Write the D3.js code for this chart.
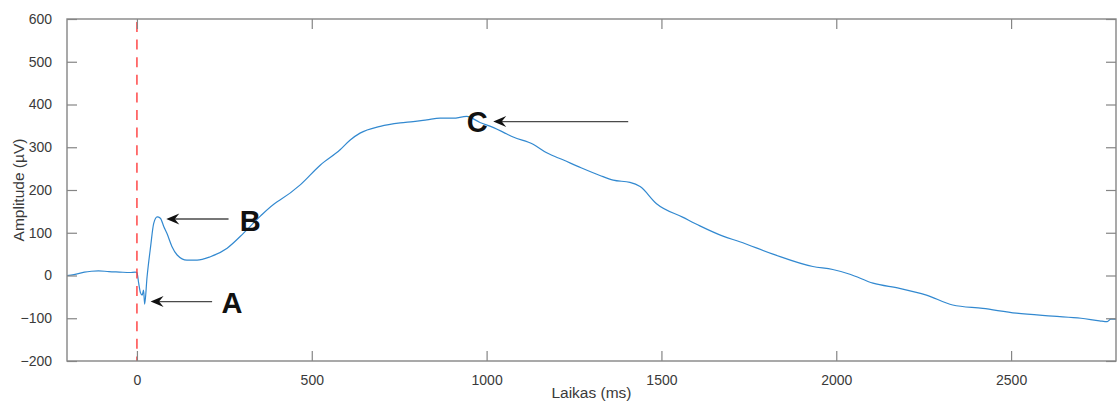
<!DOCTYPE html>
<html>
<head>
<meta charset="utf-8">
<script src="https://cdn.jsdelivr.net/npm/d3@7"></script>
<style>
  html, body { margin: 0; padding: 0; background: #fff; }
  svg { display: block; font-family: "Liberation Sans", Arial, Helvetica, sans-serif; }
</style>
</head>
<body>
<svg id="chart" width="1117" height="405"></svg>
<script>
// ---- data ----
const timeMs = [-200,-180,-150,-130,-110,-80,-50,-20,-5,0,5,10,15,19,22,29,39,48,58,67,77,86,100,115,143,172,210,258,305,353,400,410,467,524,581,610,638,696,753,790,829,867,904,943,981,1020,1058,1076,1133,1172,1220,1270,1324,1362,1410,1439,1486,1562,1610,1676,1724,1819,1933,1990,2039,2105,2181,2258,2333,2419,2515,2619,2700,2753,2775,2785,2800];
const amplitude = [0,2,8,10,11,9,8,7,8,7,-18,-40,-46,-34,-67,-3,67,122,137,134,114,98,68,48,36,36,44,64,99,139,172,177,212,258,294,317,333,349,357,360,364,368,368,372,358,346,331,324,307,287,270,252,234,223,218,208,168,136,116,92,79,50,21,14,3,-18,-30,-46,-69,-77,-88,-95,-100,-106,-108,-102,-102];

const xTicks = [0, 500, 1000, 1500, 2000, 2500];
const yTicks = [-200, -100, 0, 100, 200, 300, 400, 500, 600];
const xDomain = [-200, 2800];
const yDomain = [-200, 600];
const xLabel = "Laikas (ms)";
const yLabel = "Amplitude (\u00B5V)";
const markerTime = 0;

// annotations: label, arrow tip (t, v), arrow tail time, label position (t, v)
const annoLabels = ["A", "B", "C"];
const annoTipT = [39, 84, 1019];
const annoTipV = [-61, 132, 360];
const annoTailT = [215, 262, 1405];
const annoLabelT = [272, 324, 973];
const annoLabelV = [-65, 128, 358];

// ---- layout ----
const pLeft = 67, pRight = 1116, pTop = 19, pBottom = 361;
const svg = d3.select("#chart");
const x = d3.scaleLinear().domain(xDomain).range([pLeft, pRight]);
const y = d3.scaleLinear().domain(yDomain).range([pBottom, pTop]);

const axisColor = "#858585";
const textColor = "#3a3a3a";
const tickLen = 10;

// data line
const data = timeMs.map((t, i) => ({ t, v: amplitude[i] }));
svg.append("path")
  .datum(data)
  .attr("fill", "none")
  .attr("stroke", "#3289d0")
  .attr("stroke-width", 1.2)
  .attr("stroke-linejoin", "round")
  .attr("d", d3.line().curve(d3.curveMonotoneX).x(d => x(d.t)).y(d => y(d.v)));

// red dashed line at t = 0
svg.append("line")
  .attr("x1", x(markerTime)).attr("x2", x(markerTime))
  .attr("y1", pTop + 3).attr("y2", pBottom)
  .attr("stroke", "#ff3b3b")
  .attr("stroke-width", 1.4)
  .attr("stroke-dasharray", "10,7.6");

// axes
function styleAxis(g, showText) {
  g.select(".domain").remove();
  g.selectAll(".tick line").attr("stroke", axisColor).attr("stroke-width", 1.2);
  g.selectAll(".tick text")
    .attr("fill", textColor)
    .style("font-size", "14px")
    .style("font-family", "'Liberation Sans', Arial, sans-serif");
  if (!showText) g.selectAll(".tick text").remove();
}

svg.append("g").attr("transform", `translate(0,${pBottom})`)
  .call(d3.axisBottom(x).tickValues(xTicks).tickSizeInner(-tickLen).tickSizeOuter(0).tickPadding(14).tickFormat(d3.format("d")))
  .call(g => styleAxis(g, true));
svg.append("g").attr("transform", `translate(0,${pTop})`)
  .call(d3.axisTop(x).tickValues(xTicks).tickSizeInner(-tickLen).tickSizeOuter(0))
  .call(g => styleAxis(g, false));
svg.append("g").attr("transform", `translate(${pLeft},0)`)
  .call(d3.axisLeft(y).tickValues(yTicks).tickSizeInner(-tickLen).tickSizeOuter(0).tickPadding(15).tickFormat(d3.format("d")))
  .call(g => styleAxis(g, true));
svg.append("g").attr("transform", `translate(${pRight},0)`)
  .call(d3.axisRight(y).tickValues(yTicks).tickSizeInner(-tickLen).tickSizeOuter(0))
  .call(g => styleAxis(g, false));

// box
svg.append("rect")
  .attr("x", pLeft).attr("y", pTop)
  .attr("width", pRight - pLeft).attr("height", pBottom - pTop)
  .attr("fill", "none").attr("stroke", axisColor).attr("stroke-width", 1.4);

// axis labels
svg.append("text")
  .attr("x", (pLeft + pRight) / 2).attr("y", 398)
  .attr("text-anchor", "middle")
  .attr("fill", textColor)
  .style("font-size", "15.5px")
  .text(xLabel);
svg.append("text")
  .attr("transform", `translate(24,${(pTop + pBottom) / 2}) rotate(-90)`)
  .attr("text-anchor", "middle")
  .attr("fill", textColor)
  .style("font-size", "15.5px")
  .text(yLabel);

// annotations
const headL = 13, headW = 5.5, headIn = 8.5;
annoLabels.forEach((lab, i) => {
  const tx = x(annoTipT[i]), ty = y(annoTipV[i]);
  const ex = x(annoTailT[i]);
  svg.append("line")
    .attr("x1", tx + headIn).attr("x2", ex)
    .attr("y1", ty).attr("y2", ty)
    .attr("stroke", "#4a4a4a").attr("stroke-width", 1.4);
  svg.append("path")
    .attr("d", `M${tx},${ty} L${tx + headL},${ty - headW} L${tx + headIn},${ty} L${tx + headL},${ty + headW} Z`)
    .attr("fill", "#111");
  svg.append("text")
    .attr("x", x(annoLabelT[i])).attr("y", y(annoLabelV[i]))
    .attr("text-anchor", "middle")
    .attr("dominant-baseline", "central")
    .attr("fill", "#111")
    .style("font-size", "29px")
    .style("font-weight", "bold")
    .text(lab);
});
</script>
</body>
</html>
